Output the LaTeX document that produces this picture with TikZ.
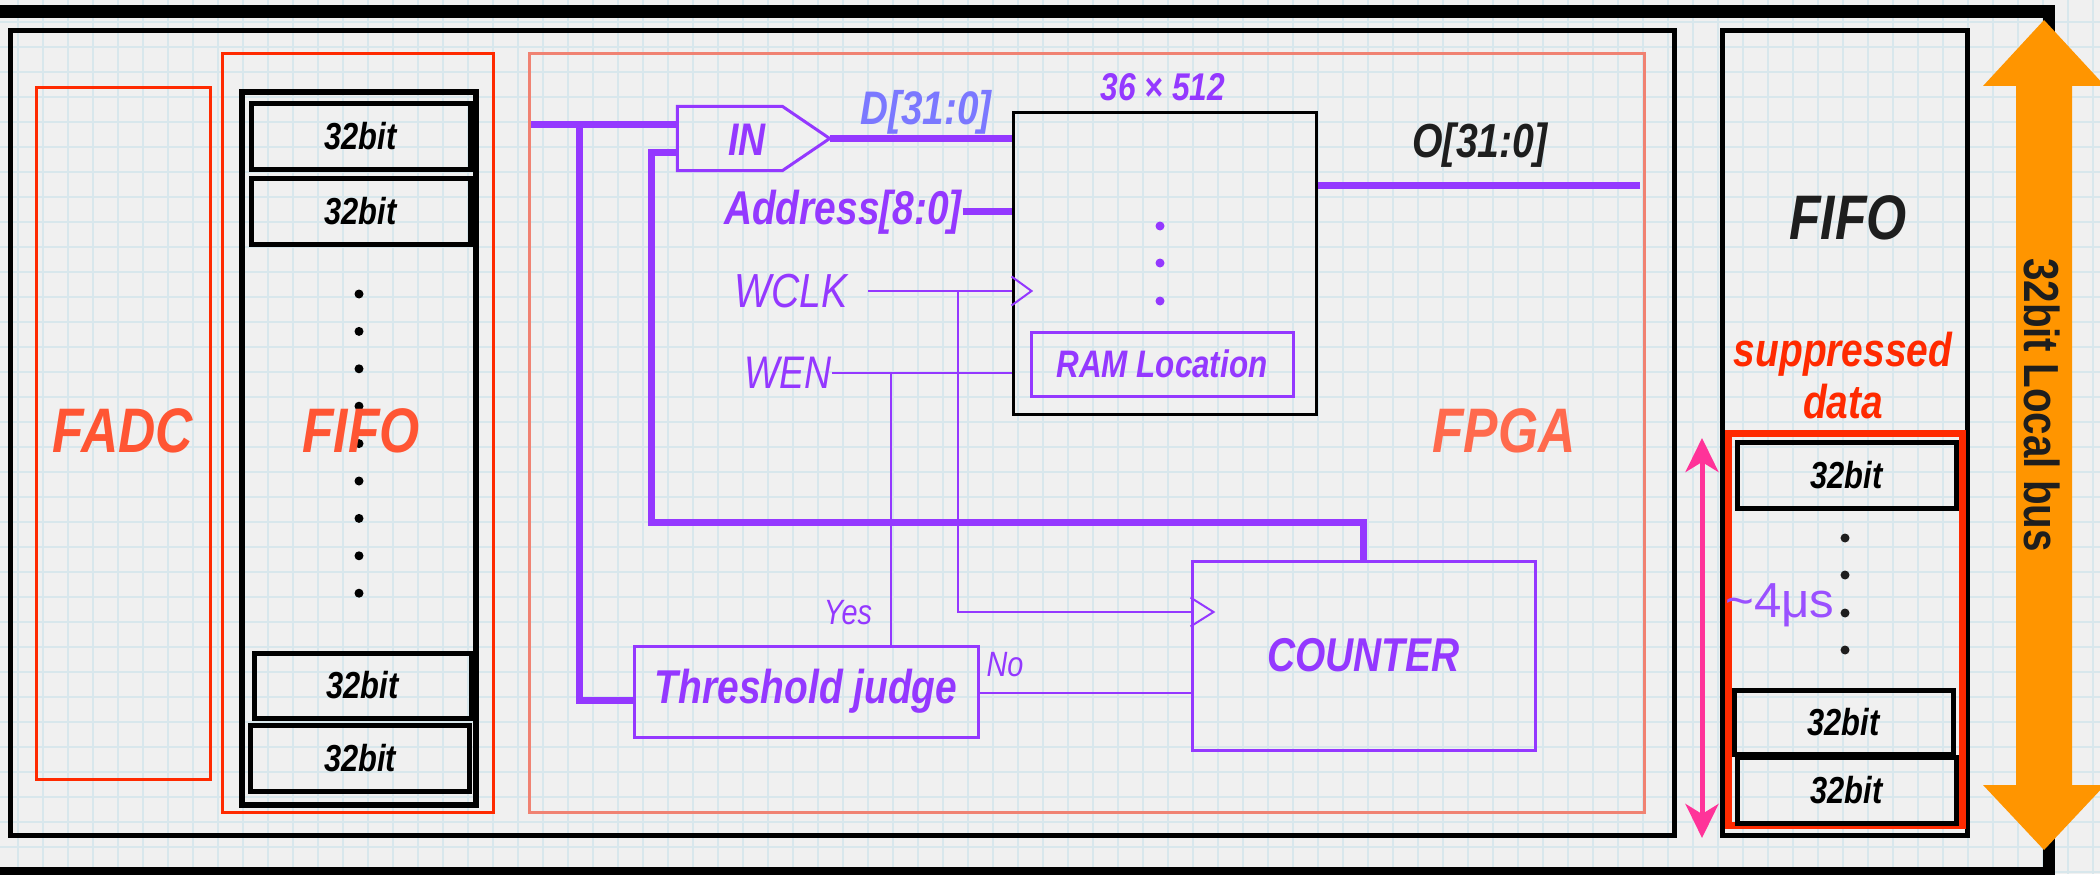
\documentclass[tikz,border=0pt]{standalone}
\usepackage{fontspec}
\setmainfont{Liberation Sans}[FakeStretch=0.82]
\newfontfamily\plainsans{Liberation Sans}
\usepackage{tikz}
\usetikzlibrary{arrows.meta,calc}
\definecolor{paper}{HTML}{F0F0F0}
\definecolor{gridc}{HTML}{D8E7EC}
\definecolor{vio}{HTML}{9438FF}
\definecolor{vio2}{HTML}{9A50FF}
\definecolor{dbus}{HTML}{7B78FF}
\definecolor{hotred}{HTML}{FF2A00}
\definecolor{tomato}{HTML}{FF5533}
\definecolor{fpgac}{HTML}{FF6A4D}
\definecolor{salmon}{HTML}{F08272}
\definecolor{pinkc}{HTML}{FF3399}
\definecolor{busorange}{HTML}{FF9500}
\definecolor{ink}{HTML}{1E1E1E}
\newcommand{\fsz}[1]{\fontsize{#1}{#1}\selectfont}
\tikzset{
  frame/.style ={draw, line width=0.5mm, inner sep=0pt},
  redbox/.style={draw=hotred, line width=0.3mm, inner sep=0pt},
  cell/.style  ={draw, line width=0.5mm, minimum width=21.9mm, minimum height=6.6mm, inner sep=0pt, font=\fsz{10.7}\bfseries\itshape},
  unit/.style  ={draw=vio, line width=0.3mm, inner sep=0pt, text=vio, font=\fsz{13.5}\bfseries\itshape},
  big/.style   ={inner sep=0pt, font=\fsz{17.9}\bfseries\itshape},
  vtxt/.style  ={inner sep=0pt, text=vio, font=\fsz{13}\bfseries\itshape},
  sig/.style   ={inner sep=0pt, text=vio, font=\fsz{13}\itshape},
  bus/.style   ={draw=vio, line width=0.7mm},
  wire/.style  ={draw=vio, line width=0.2mm},
  dot/.style   ={circle, fill, inner sep=0pt, minimum size=0.9mm},
}

\begin{document}
\begin{tikzpicture}[x=0.1mm, y=-0.1mm]
  \useasboundingbox (0,0) rectangle (2100,874);
  \clip (0,0) rectangle (2100,874);
  % graph paper
  \fill[paper] (0,0) rectangle (2100,874);
  \foreach \gx in {18,43,...,2100} \draw[gridc, line width=0.2mm] (\gx,0) -- (\gx,874);
  \foreach \gy in {22,47,...,874} \draw[gridc, line width=0.2mm] (0,\gy) -- (2100,\gy);
  \draw[line width=1.25mm] (-20,11.5) rectangle (2049,873);

  % boards
  \node[frame, minimum width=166.4mm, minimum height=80.5mm] (board) at (842,432.5) {};
  \node[frame, minimum width=24.5mm, minimum height=80.5mm] (outfifo) at (1844.5,432.5) {};

  % FADC and input FIFO
  \node[redbox, minimum width=17.4mm, minimum height=69.2mm] (fadc) at (123,433) {};
  \node[big, text=tomato] (fadclbl) at (123,431) {FADC};
  \node[redbox, minimum width=27.1mm, minimum height=75.9mm] (infifo) at (357.5,432.5) {};
  \node[frame, line width=0.6mm, minimum width=23.4mm, minimum height=71.3mm] (column) at (359,448.5) {};
  \node[cell] (c1) at (360.5,136.5) {32bit};
  \node[cell] (c2) at (360.5,211.5) {32bit};
  \node[cell, minimum width=21.7mm, minimum height=6.5mm] (c3) at (362.5,685.5) {32bit};
  \node[cell] (c4) at (360,758) {32bit};
  \foreach \k in {0,...,8} \node[dot] (ld\k) at (359,{294+37.4*\k}) {};
  \node[big, text=tomato] (fifolbl) at (361,431) {FIFO};

  % FPGA
  \node[draw=salmon, line width=0.3mm, inner sep=0pt, minimum width=111.5mm, minimum height=75.9mm] (fpga) at (1086.5,432.5) {};
  \node[big, text=fpgac] (fpgalbl) at (1504,431) {FPGA};

  % RAM block
  \node[draw, line width=0.3mm, inner sep=0pt, minimum width=30.3mm, minimum height=30.1mm] (ram) at (1164.5,263.5) {};
  \node[vtxt, font=\fsz{11}\bfseries\itshape] (size) at (1163,87) {36 × 512};
  \node[unit, font=\fsz{10.9}\bfseries\itshape, minimum width=26.2mm, minimum height=6.4mm] (loc) at (1162,364) {RAM Location};
  \foreach \k/\yy in {1/226,2/263,3/301} \node[dot, vio] (rd\k) at (1160,\yy) {};

  % threshold and counter
  \node[unit, minimum width=34.4mm, minimum height=9.1mm] (thr) at (806,691.5) {Threshold judge};
  \node[unit, minimum width=34.3mm, minimum height=18.9mm] (cnt) at (1363.5,655.5) {COUNTER};

  % IN block
  \node[inner sep=0pt, minimum width=15.1mm, minimum height=6.3mm] (inblk) at (753.5,138.5) {};
  \draw[vio, line width=0.3mm] (inblk.north west) -- ++(105,0) -- (inblk.east)
    -- ($(inblk.south west)+(105,0)$) -- (inblk.south west) -- cycle;
  \node[vtxt] (inlbl) at (747,140) {IN};
  \coordinate (busin) at (531,125);
  \coordinate (tap) at (579,125);
  \draw[bus] (busin) -- (inblk.west |- busin);
  \draw[bus] (tap) |- ([yshift=-0.85mm]thr.west);
  \draw[bus] ([yshift=-1.45mm]inblk.west) -| (651,522) -| (cnt.north);

  % ports
  \draw[bus] (inblk.east) -- (inblk.east -| ram.west);
  \node[vtxt, text=dbus, font=\fsz{13.4}\bfseries\itshape] (dlbl) at (926,112) {D[31:0]};
  \node[vtxt, font=\fsz{13.5}\bfseries\itshape] (addr) at (843,212) {Address[8:0]};
  \draw[bus] (addr.east) -- (addr.east -| ram.west);
  \node[sig, font=\fsz{13.6}\itshape] (wclk) at (791,291) {WCLK};
  \draw[wire] ([xshift=2mm]wclk.east) -- (ram.west |- wclk.east);
  \coordinate (ck) at (ram.west |- wclk.east);
  \draw[wire] ([yshift=1.45mm]ck) -- ([xshift=2mm]ck) -- ([yshift=-1.45mm]ck);
  \node[sig] (wen) at (788,373) {WEN};
  \draw[wire] (wen.east) -- (wen.east -| ram.west);
  \coordinate (oend) at (1640,186);
  \draw[bus] (ram.east |- oend) -- (oend);
  \node[vtxt, text=ink, font=\fsz{13.6}\bfseries\itshape] (olbl) at (1480,145) {O[31:0]};

  % control wires
  \coordinate (ej) at (891,373);
  \draw[wire] (ej) -- (ej |- thr.north);
  \coordinate (wj) at (958,291);
  \coordinate (cck) at ([yshift=4.35mm]cnt.west);
  \draw[wire] (wj) |- (cck);
  \draw[wire] ([yshift=1.45mm]cck) -- ([xshift=2.3mm]cck) -- ([yshift=-1.45mm]cck);
  \draw[wire] ([yshift=-0.15mm]thr.east) -- ([yshift=-0.15mm]thr.east -| cnt.west);
  \node[sig, font=\fsz{10}\itshape] (yes) at (848,613) {Yes};
  \node[sig, font=\fsz{10}\itshape] (no) at (1005,665) {No};

  % output FIFO
  \node[big, text=ink] (fifo2lbl) at (1848,218) {FIFO};
  \node[inner sep=0pt, align=center, text=hotred, font=\fontsize{13.5}{14.8}\selectfont\bfseries\itshape] (supp) at (1843,376) {suppressed\\data};
  \node[draw=hotred, line width=0.7mm, inner sep=0pt, minimum width=23.4mm, minimum height=39.2mm] (supbox) at (1845,629) {};
  \node[cell] (r1) at (1846.5,475) {32bit};
  \node[cell, minimum height=6.4mm] (r2) at (1843.5,722) {32bit};
  \node[cell] (r3) at (1846.5,790) {32bit};
  \foreach \k/\yy in {1/538,2/575,3/613,4/650} \node[dot, ink] (rdd\k) at (1845,\yy) {};
  \node[inner sep=0pt, text=vio2, font=\plainsans\fsz{14}] (dur) at (1780,605) {\textasciitilde 4μs};
  \coordinate (durtop) at (1702,438);
  \coordinate (durbot) at (1702,838);
  \draw[pinkc, line width=0.5mm, {Stealth[length=3.4mm,width=3.3mm,inset=1mm]}-{Stealth[length=3.4mm,width=3.3mm,inset=1mm]}] (durtop) -- (durbot);

  % local bus
  \fill[busorange] (2044,20) -- (2105,86) -- (2072,86) -- (2072,785) -- (2105,785) -- (2044,850)
    -- (1983,785) -- (2016,785) -- (2016,86) -- (1983,86) -- cycle;
  \node[rotate=-90, inner sep=0pt, text=ink, font=\fsz{14}\bfseries] (buslbl) at (2042,405) {32bit Local bus};
\end{tikzpicture}
\end{document}
